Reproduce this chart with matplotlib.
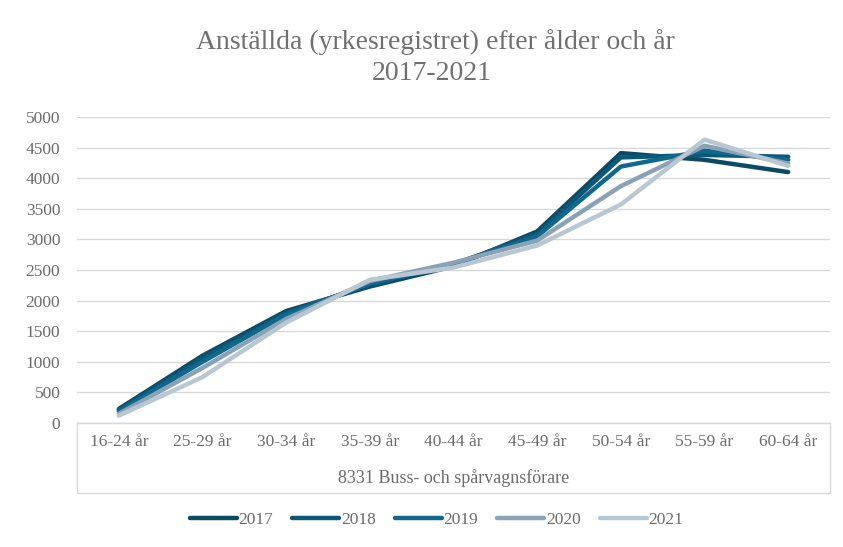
import matplotlib
matplotlib.use("Agg")
import matplotlib.pyplot as plt
from matplotlib.patches import Rectangle

categories = ["16-24 år", "25-29 år", "30-34 år", "35-39 år", "40-44 år",
              "45-49 år", "50-54 år", "55-59 år", "60-64 år"]
years = ["2017", "2018", "2019", "2020", "2021"]
v2017 = [230, 1100, 1830, 2230, 2560, 3130, 4410, 4300, 4100]
v2018 = [210, 1060, 1800, 2260, 2590, 3090, 4340, 4380, 4350]
v2019 = [190, 1000, 1770, 2280, 2600, 3050, 4190, 4450, 4300]
v2020 = [150, 900, 1700, 2320, 2620, 2980, 3870, 4530, 4240]
v2021 = [120, 750, 1640, 2340, 2540, 2900, 3570, 4630, 4200]
series = [v2017, v2018, v2019, v2020, v2021]
colors = ["#0b4a64", "#0d5878", "#10698a", "#8aa2b6", "#b9c7d3"]

plt.rcParams['font.family'] = ['Liberation Serif', 'DejaVu Serif']
txt = "#6b6b6b"
fs = 12.5

fig = plt.figure(figsize=(8.43, 5.47), dpi=100)
L, R, B, T = 77/843, 830/843, 1-423/547, 1-117/547
ax = fig.add_axes([L, B, R-L, T-B])

x = list(range(len(categories)))
for yr, vals, c in zip(years, series, colors):
    ax.plot(x, vals, color=c, lw=3.2, label=yr, solid_capstyle='round', solid_joinstyle='round')

ax.set_xlim(-0.5, len(categories)-0.5)
ax.set_ylim(0, 5000)
ax.set_yticks(range(0, 5001, 500))
ax.grid(axis='y', color='#d9d9d9', lw=1)
ax.set_axisbelow(True)
for s in ['top', 'right', 'left']:
    ax.spines[s].set_visible(False)
ax.spines['bottom'].set_color('#d9d9d9')
ax.tick_params(axis='both', length=0, colors=txt, labelsize=fs)
ax.tick_params(axis='x', pad=8)
ax.tick_params(axis='y', pad=12)
ax.set_xticks(x)
ax.set_xticklabels(categories)

# category box
h = (493-423)/306
ax.add_patch(Rectangle((0, -h), 1, h, transform=ax.transAxes, fill=False,
                       edgecolor='#d9d9d9', lw=1, clip_on=False))
ax.text(0.5, -(478-423)/306, "8331 Buss- och spårvagnsförare", transform=ax.transAxes,
        ha='center', va='center', color=txt, fontsize=13)

fig.text(0.517, 1-42/547, "Anställda (yrkesregistret) efter ålder och år", ha='center',
         va='center', fontsize=20, color='#707070')
fig.text(0.512, 1-74/547, "2017-2021", ha='center', va='center', fontsize=20, color='#707070')

fig.legend(loc='center', bbox_to_anchor=(0.518, 1-520/547), ncol=5, frameon=False,
           fontsize=fs, handlelength=2.7, handletextpad=0.1, columnspacing=1.1,
           labelcolor=txt)

fig.savefig("out.png", dpi=100, facecolor='white')
